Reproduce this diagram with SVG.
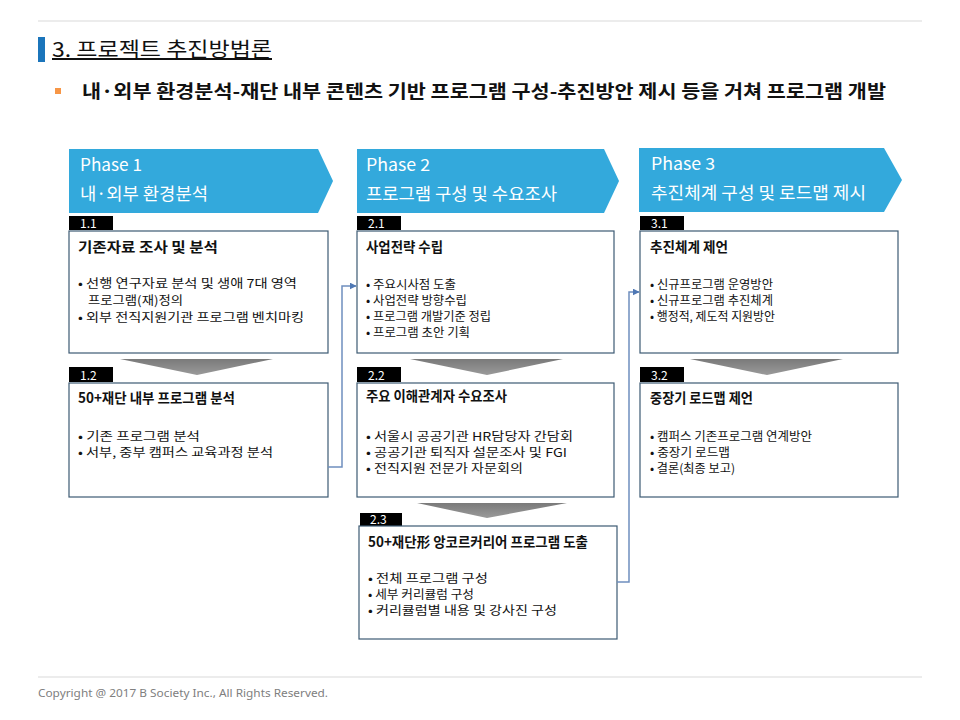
<svg xmlns="http://www.w3.org/2000/svg" width="960" height="720" viewBox="0 0 960 720">
<defs>
<marker id="arr" viewBox="0 0 10 10" refX="9" refY="5" markerWidth="7" markerHeight="7" orient="auto" markerUnits="userSpaceOnUse"><path d="M0,0 L10,5 L0,10 z" fill="#4f78b4"/></marker>
<linearGradient id="tri" x1="0" y1="0" x2="0" y2="1"><stop offset="0" stop-color="#7a7a7a"/><stop offset="1" stop-color="#9a9a9a"/></linearGradient>
</defs>
<style>
text{font-family:"Noto Sans CJK KR","Noto Sans",sans-serif;}
.ph{fill:#33a9dc;}
.pt{fill:#fff;font-size:17px;}
.lb{fill:#000;}
.lt{fill:#fff;font-size:12px;}
.bx{fill:#fff;stroke:#3d5a73;stroke-width:1.2;}
.bt{fill:#111;font-size:14px;font-weight:700;}
.bl{fill:#111;font-size:12px;}
.tri{fill:url(#tri);}
.cn{fill:none;stroke:#6f8fbf;stroke-width:1.5;}
</style>
<rect width="960" height="720" fill="#fff"/>
<line x1="38" y1="21" x2="922" y2="21" stroke="#d9d9d9" stroke-width="1"/>
<line x1="38" y1="677" x2="922" y2="677" stroke="#d9d9d9" stroke-width="1"/>
<g id="title">
<rect x="38" y="37" width="7" height="25" fill="#1b75bb"/>
<text x="52" y="57" font-size="20" fill="#111" textLength="220" lengthAdjust="spacingAndGlyphs" text-decoration="underline">3. 프로젝트 추진방법론</text>
</g>
<g id="subtitle">
<rect x="55" y="88" width="6" height="6" fill="#f79646"/>
<text x="82" y="98" font-size="18" font-weight="700" fill="#111" textLength="804" lengthAdjust="spacingAndGlyphs">내·외부 환경분석-재단 내부 콘텐츠 기반 프로그램 구성-추진방안 제시 등을 거쳐 프로그램 개발</text>
</g>
<g id="phase1">
<polygon class="ph" points="69,149 318,149 333,181 318,213 69,213"/>
<text class="pt" x="80" y="171" textLength="62" lengthAdjust="spacingAndGlyphs">Phase 1</text>
<text class="pt" x="80" y="200" textLength="128" lengthAdjust="spacingAndGlyphs">내·외부 환경분석</text>
</g>
<g id="phase2">
<polygon class="ph" points="357,149 604,149 619,181 604,213 357,213"/>
<text class="pt" x="366" y="171" textLength="64" lengthAdjust="spacingAndGlyphs">Phase 2</text>
<text class="pt" x="366" y="200" textLength="191" lengthAdjust="spacingAndGlyphs">프로그램 구성 및 수요조사</text>
</g>
<g id="phase3">
<polygon class="ph" points="639,148 884,148 902,180 884,212 639,212"/>
<text class="pt" x="651" y="170" textLength="64" lengthAdjust="spacingAndGlyphs">Phase 3</text>
<text class="pt" x="651" y="199" textLength="215" lengthAdjust="spacingAndGlyphs">추진체계 구성 및 로드맵 제시</text>
</g>
<g id="step1-1">
<rect class="lb" x="69" y="216" width="44" height="14"/>
<text class="lt" x="80" y="228">1.1</text>
<rect class="bx" x="69" y="231" width="259" height="122"/>
<text class="bt" x="78" y="252" textLength="140" lengthAdjust="spacingAndGlyphs">기존자료 조사 및 분석</text>
<text class="bl" x="78" y="288" textLength="219" lengthAdjust="spacingAndGlyphs">• 선행 연구자료 분석 및 생애 7대 영역</text>
<text class="bl" x="88" y="305" textLength="95" lengthAdjust="spacingAndGlyphs">프로그램(재)정의</text>
<text class="bl" x="78" y="322" textLength="226" lengthAdjust="spacingAndGlyphs">• 외부 전직지원기관 프로그램 벤치마킹</text>
</g>
<g id="step1-2">
<polygon class="tri" points="120,359 273,359 197,375"/>
<rect class="lb" x="69" y="367" width="44" height="15"/>
<text class="lt" x="80" y="380">1.2</text>
<rect class="bx" x="69" y="383" width="259" height="114"/>
<text class="bt" x="78" y="403" textLength="157" lengthAdjust="spacingAndGlyphs">50+재단 내부 프로그램 분석</text>
<text class="bl" x="78" y="441" textLength="122" lengthAdjust="spacingAndGlyphs">• 기존 프로그램 분석</text>
<text class="bl" x="78" y="457" textLength="195" lengthAdjust="spacingAndGlyphs">• 서부, 중부 캠퍼스 교육과정 분석</text>
</g>
<g id="step2-1">
<rect class="lb" x="357" y="216" width="44" height="14"/>
<text class="lt" x="368" y="228">2.1</text>
<rect class="bx" x="357" y="231" width="257" height="122"/>
<text class="bt" x="366" y="252" textLength="77" lengthAdjust="spacingAndGlyphs">사업전략 수립</text>
<text class="bl" x="366" y="289" textLength="90" lengthAdjust="spacingAndGlyphs">• 주요시사점 도출</text>
<text class="bl" x="366" y="305" textLength="101" lengthAdjust="spacingAndGlyphs">• 사업전략 방향수립</text>
<text class="bl" x="366" y="321" textLength="125" lengthAdjust="spacingAndGlyphs">• 프로그램 개발기준 정립</text>
<text class="bl" x="366" y="337" textLength="104" lengthAdjust="spacingAndGlyphs">• 프로그램 초안 기획</text>
</g>
<g id="step2-2">
<polygon class="tri" points="410,359 563,359 487,375"/>
<rect class="lb" x="357" y="367" width="44" height="15"/>
<text class="lt" x="368" y="380">2.2</text>
<rect class="bx" x="357" y="383" width="257" height="114"/>
<text class="bt" x="366" y="401" textLength="141" lengthAdjust="spacingAndGlyphs">주요 이해관계자 수요조사</text>
<text class="bl" x="366" y="441" textLength="207" lengthAdjust="spacingAndGlyphs">• 서울시 공공기관 HR담당자 간담회</text>
<text class="bl" x="366" y="457" textLength="201" lengthAdjust="spacingAndGlyphs">• 공공기관 퇴직자 설문조사 및 FGI</text>
<text class="bl" x="366" y="473" textLength="157" lengthAdjust="spacingAndGlyphs">• 전직지원 전문가 자문회의</text>
</g>
<g id="step2-3">
<polygon class="tri" points="417,503 567,503 487,518"/>
<rect class="lb" x="360" y="513" width="42" height="13"/>
<text class="lt" x="370" y="524">2.3</text>
<rect class="bx" x="359" y="526" width="258" height="113"/>
<text class="bt" x="368" y="547" textLength="220" lengthAdjust="spacingAndGlyphs">50+재단形 앙코르커리어  프로그램 도출</text>
<text class="bl" x="368" y="583" textLength="120" lengthAdjust="spacingAndGlyphs">• 전체 프로그램 구성</text>
<text class="bl" x="368" y="599" textLength="106" lengthAdjust="spacingAndGlyphs">• 세부 커리큘럼 구성</text>
<text class="bl" x="368" y="615" textLength="189" lengthAdjust="spacingAndGlyphs">• 커리큘럼별 내용 및 강사진 구성</text>
</g>
<g id="step3-1">
<rect class="lb" x="640" y="216" width="44" height="14"/>
<text class="lt" x="651" y="228">3.1</text>
<rect class="bx" x="640" y="231" width="258" height="122"/>
<text class="bt" x="650" y="252" textLength="78" lengthAdjust="spacingAndGlyphs">추진체계 제언</text>
<text class="bl" x="650" y="289" textLength="123" lengthAdjust="spacingAndGlyphs">• 신규프로그램 운영방안</text>
<text class="bl" x="650" y="305" textLength="123" lengthAdjust="spacingAndGlyphs">• 신규프로그램 추진체계</text>
<text class="bl" x="650" y="321" textLength="125" lengthAdjust="spacingAndGlyphs">• 행정적, 제도적 지원방안</text>
</g>
<g id="step3-2">
<polygon class="tri" points="690,359 843,359 767,375"/>
<rect class="lb" x="640" y="367" width="44" height="15"/>
<text class="lt" x="651" y="380">3.2</text>
<rect class="bx" x="640" y="383" width="258" height="114"/>
<text class="bt" x="650" y="403" textLength="103" lengthAdjust="spacingAndGlyphs">중장기 로드맵 제언</text>
<text class="bl" x="650" y="441" textLength="162" lengthAdjust="spacingAndGlyphs">• 캠퍼스 기존프로그램 연계방안</text>
<text class="bl" x="650" y="457" textLength="80" lengthAdjust="spacingAndGlyphs">• 중장기 로드맵</text>
<text class="bl" x="650" y="473" textLength="85" lengthAdjust="spacingAndGlyphs">• 결론(최종 보고)</text>
</g>
<g id="connectors">
<polyline class="cn" points="328,467 342,467 342,286 356,286" marker-end="url(#arr)"/>
<polyline class="cn" points="617,582 629,582 629,292 639,292" marker-end="url(#arr)"/>
</g>
<text x="38" y="697" font-size="11" fill="#808080" style="font-family:'Noto Sans','DejaVu Sans',sans-serif" textLength="290" lengthAdjust="spacingAndGlyphs">Copyright @ 2017 B Society Inc., All Rights Reserved.</text>
</svg>
